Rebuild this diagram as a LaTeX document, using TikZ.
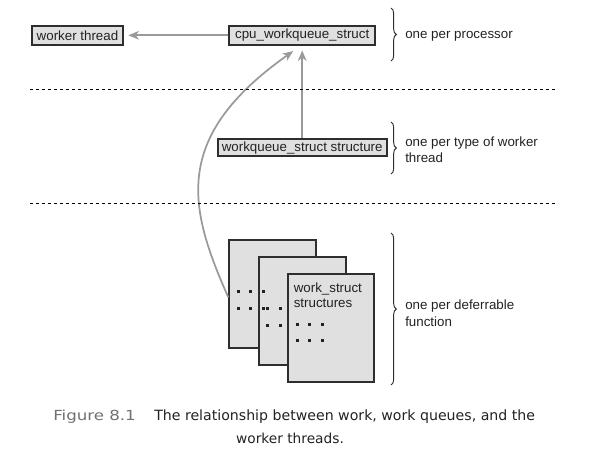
\documentclass[tikz,border=0pt]{standalone}
\usepackage{fontspec}
\usepackage{graphicx}
\setmainfont{Liberation Sans}
\newfontfamily\capfont{DejaVu Sans}
\usetikzlibrary{arrows.meta,decorations.pathreplacing,calc}
\definecolor{boxfill}{HTML}{E0E0E0}
\definecolor{boxline}{HTML}{2E2E2E}
\definecolor{arrowgray}{HTML}{9A9A9A}
\definecolor{txt}{HTML}{222222}
\definecolor{figgray}{HTML}{707070}
\begin{document}
\begin{tikzpicture}[x=0.75pt,y=-0.75pt,
  every node/.style={text=txt,font=\fontsize{10}{12}\selectfont},
  box/.style={draw=boxline,fill=boxfill,line width=1.5pt,inner sep=0pt,minimum height=14pt},
  page/.style={draw=boxline,fill=boxfill,line width=1.5pt,minimum width=64.8pt,minimum height=81pt,inner sep=0pt},
  conn/.style={draw=arrowgray,line width=1.5pt,-{Stealth[length=8pt,width=6.5pt,inset=2.5pt]}},
  sep/.style={draw=black,line width=0.6pt,dash pattern=on 2.5pt off 2pt},
  brc/.style={draw=boxline,line width=0.7pt,decorate,decoration={brace,amplitude=4pt}},
  note/.style={anchor=west,align=left,inner sep=0pt,font=\fontsize{10}{12}\selectfont},
  dot/.style={fill=txt},
  captxt/.style={inner sep=0pt,font=\capfont\fontsize{10.6}{12}\selectfont,text=txt}]
\useasboundingbox (0,0) rectangle (591,457);
% boxes
\node[box,minimum width=68.7pt] (worker) at (77.5,35.3) {worker thread};
\node[box,minimum width=109.3pt] (cpu) at (302.2,35.3) {cpu\_workqueue\_struct};
\node[box,minimum width=126.75pt,minimum height=13pt] (wq) at (302.2,147.8) {workqueue\_struct structure};
% pages
\node[page] (p1) at (272.5,294.3) {};
\node[page] (p2) at (302.5,311.3) {};
\foreach \x in {238,250.5,263}{\foreach \y in {291,308}{\fill[dot] (\x-1.5,\y-1.5) rectangle (\x+1.5,\y+1.5);}}
\foreach \x in {267.5,280,292.5}{\foreach \y in {308,325}{\fill[dot] (\x-1.5,\y-1.5) rectangle (\x+1.5,\y+1.5);}}
\node[page] (p3) at (330.8,328.3) {};
\node[note,align=left,font=\fontsize{10}{11.25}\selectfont] (p3txt) at (293.5,295.5) {work\_struct\\structures};
\foreach \x in {297,309.5,322}{\foreach \y in {324,340}{\fill[dot] (\x-1.5,\y-1.5) rectangle (\x+1.5,\y+1.5);}}
% connectors
\draw[conn,shorten >=3pt] (cpu.west) -- (worker.east);
\draw[conn,shorten >=3.5pt] (wq.north) -- (cpu.south);
\coordinate (ctip) at ($(cpu.south)+(-9,5.5)$);
\draw[conn,line width=1.3pt] ($(p1.west)+(0,3)$) .. controls +(-40,-90) and +(-122,86) .. (ctip);
% separators
\draw[sep] (30,89) -- (557,89);
\draw[sep] (30,203) -- (557,203);
% braces
\draw[brc] (391,8) -- (391,61);
\draw[brc] (391,122) -- (391,174);
\draw[brc] (391,233) -- (391,385);
\node[note] (n1) at (405,36) {one per processor};
\node[note,font=\fontsize{10}{11.7}\selectfont] (n2) at (405,149.5) {one per type of worker\\thread};
\node[note,font=\fontsize{10}{12.5}\selectfont] (n3) at (405,313.5) {one per deferrable\\function};
% caption
\node[captxt,anchor=west,text=figgray,font=\capfont\fontsize{10.4}{12}\selectfont] (figlbl) at (53,417) {\scalebox{1.2}[1]{Figure 8.1}};
\node[captxt,anchor=west] (cap1) at (154,417) {The relationship between work, work queues, and the};
\node[captxt,font=\capfont\fontsize{10.3}{12}\selectfont] (cap2) at (290,438) {worker threads.};
\end{tikzpicture}
\end{document}
